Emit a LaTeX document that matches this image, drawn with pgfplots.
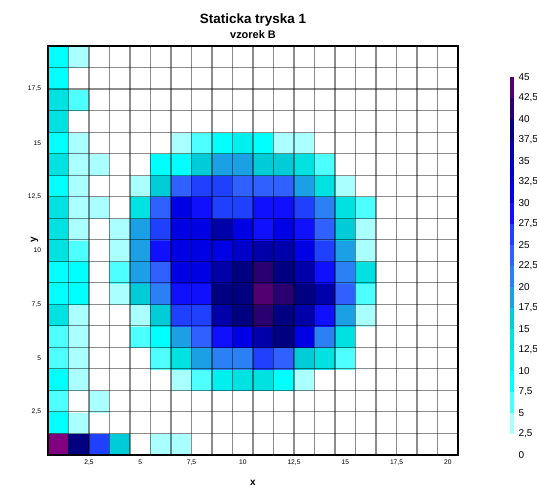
\documentclass[border=0pt]{standalone}
\usepackage{fontspec}
\setmainfont{Liberation Sans}
\usepackage{pgfplots}
\pgfplotsset{compat=1.18}
\begin{document}
\begin{tikzpicture}[x=1bp,y=1bp]
\useasboundingbox (0,0) rectangle (537,488);
\begin{axis}[
  at={(48bp,33bp)}, anchor=south west,
  scale only axis, width=410bp, height=409bp,
  xmin=0.5, xmax=20.5, ymin=0.5, ymax=19.5,
  y dir=normal,
  xtick={2.5,5,7.5,10,12.5,15,17.5,20},
  ytick={2.5,5,7.5,10,12.5,15,17.5},
  minor xtick={0.5,1.5,2.5,3.5,4.5,5.5,6.5,7.5,8.5,9.5,10.5,11.5,12.5,13.5,14.5,15.5,16.5,17.5,18.5,19.5,20.5},
  minor ytick={0.5,1.5,2.5,3.5,4.5,5.5,6.5,7.5,8.5,9.5,10.5,11.5,12.5,13.5,14.5,15.5,16.5,17.5,18.5,19.5},
  xminorgrids, yminorgrids,
  minor grid style={black, opacity=0.45, line width=1.1bp},
  axis on top,
  major tick length=0pt, minor tick length=0pt,
  /pgf/number format/use comma,
  /pgf/number format/assume math mode=true,
  tick label style={font=\fontsize{6.7}{8}\selectfont},
  xticklabel style={yshift=-1.5bp},
  yticklabel style={xshift=-3.5bp},
  axis line style={black, line width=1.2bp},
  xlabel={\textbf{x}}, ylabel={\textbf{y}},
  label style={font=\fontsize{10}{12}\selectfont},
  xlabel style={yshift=-8bp},
  ylabel style={yshift=-17bp, xshift=11bp},
  colormap={hm}{
    rgb255(0cm)=(255,255,255)
    rgb255(1cm)=(170,255,255)
    rgb255(2cm)=(77,255,255)
    rgb255(3cm)=(0,255,255)
    rgb255(4cm)=(0,240,240)
    rgb255(5cm)=(0,226,226)
    rgb255(6cm)=(0,204,216)
    rgb255(7cm)=(27,160,229)
    rgb255(8cm)=(44,128,245)
    rgb255(9cm)=(48,96,255)
    rgb255(10cm)=(32,64,255)
    rgb255(11cm)=(16,16,255)
    rgb255(12cm)=(0,0,229)
    rgb255(13cm)=(0,0,200)
    rgb255(14cm)=(0,0,170)
    rgb255(15cm)=(0,0,128)
    rgb255(16cm)=(42,0,112)
    rgb255(17cm)=(80,0,112)
    rgb255(18cm)=(128,0,128)
  },
  colormap access=piecewise constant,
  point meta min=0, point meta max=45,
  colorbar,
  colorbar style={
    at={(parent axis.south east)}, anchor=south west, xshift=43bp,
    scale only axis, width=4bp, height=378bp,
    ytick={0,2.5,5,7.5,10,12.5,15,17.5,20,22.5,25,27.5,30,32.5,35,37.5,40,42.5,45},
    yticklabel style={font=\fontsize{10}{12}\selectfont, xshift=1.5bp},
    axis line style={draw=none}, major tick length=0pt,
    /pgf/number format/use comma,
    /pgf/number format/assume math mode=true,
  },
]
\addplot[matrix plot*, mesh/cols=20, point meta=explicit, y dir=normal] coordinates {
(1,1)[45] (2,1)[38.75] (3,1)[26.25] (4,1)[16.25] (5,1)[0] (6,1)[3.75] (7,1)[3.75] (8,1)[0] (9,1)[0] (10,1)[0] (11,1)[0] (12,1)[0] (13,1)[0] (14,1)[0] (15,1)[0] (16,1)[0] (17,1)[0] (18,1)[0] (19,1)[0] (20,1)[0]
(1,2)[8.75] (2,2)[3.75] (3,2)[0] (4,2)[0] (5,2)[0] (6,2)[0] (7,2)[0] (8,2)[0] (9,2)[0] (10,2)[0] (11,2)[0] (12,2)[0] (13,2)[0] (14,2)[0] (15,2)[0] (16,2)[0] (17,2)[0] (18,2)[0] (19,2)[0] (20,2)[0]
(1,3)[6.25] (2,3)[0] (3,3)[3.75] (4,3)[0] (5,3)[0] (6,3)[0] (7,3)[0] (8,3)[0] (9,3)[0] (10,3)[0] (11,3)[0] (12,3)[0] (13,3)[0] (14,3)[0] (15,3)[0] (16,3)[0] (17,3)[0] (18,3)[0] (19,3)[0] (20,3)[0]
(1,4)[8.75] (2,4)[3.75] (3,4)[0] (4,4)[0] (5,4)[0] (6,4)[0] (7,4)[3.75] (8,4)[6.25] (9,4)[11.25] (10,4)[13.75] (11,4)[13.75] (12,4)[8.75] (13,4)[3.75] (14,4)[0] (15,4)[0] (16,4)[0] (17,4)[0] (18,4)[0] (19,4)[0] (20,4)[0]
(1,5)[6.25] (2,5)[3.75] (3,5)[0] (4,5)[0] (5,5)[0] (6,5)[6.25] (7,5)[13.75] (8,5)[18.75] (9,5)[21.25] (10,5)[21.25] (11,5)[26.25] (12,5)[23.75] (13,5)[16.25] (14,5)[13.75] (15,5)[6.25] (16,5)[0] (17,5)[0] (18,5)[0] (19,5)[0] (20,5)[0]
(1,6)[6.25] (2,6)[3.75] (3,6)[0] (4,6)[0] (5,6)[6.25] (6,6)[8.75] (7,6)[18.75] (8,6)[23.75] (9,6)[28.75] (10,6)[31.25] (11,6)[36.25] (12,6)[38.75] (13,6)[31.25] (14,6)[21.25] (15,6)[13.75] (16,6)[0] (17,6)[0] (18,6)[0] (19,6)[0] (20,6)[0]
(1,7)[13.75] (2,7)[3.75] (3,7)[0] (4,7)[0] (5,7)[3.75] (6,7)[16.25] (7,7)[26.25] (8,7)[26.25] (9,7)[36.25] (10,7)[38.75] (11,7)[41.25] (12,7)[38.75] (13,7)[36.25] (14,7)[28.75] (15,7)[18.75] (16,7)[3.75] (17,7)[0] (18,7)[0] (19,7)[0] (20,7)[0]
(1,8)[8.75] (2,8)[8.75] (3,8)[0] (4,8)[3.75] (5,8)[16.25] (6,8)[21.25] (7,8)[28.75] (8,8)[28.75] (9,8)[38.75] (10,8)[38.75] (11,8)[43.75] (12,8)[41.25] (13,8)[38.75] (14,8)[36.25] (15,8)[23.75] (16,8)[6.25] (17,8)[0] (18,8)[0] (19,8)[0] (20,8)[0]
(1,9)[8.75] (2,9)[8.75] (3,9)[0] (4,9)[6.25] (5,9)[18.75] (6,9)[23.75] (7,9)[31.25] (8,9)[31.25] (9,9)[36.25] (10,9)[38.75] (11,9)[41.25] (12,9)[38.75] (13,9)[36.25] (14,9)[28.75] (15,9)[21.25] (16,9)[13.75] (17,9)[0] (18,9)[0] (19,9)[0] (20,9)[0]
(1,10)[13.75] (2,10)[6.25] (3,10)[0] (4,10)[3.75] (5,10)[18.75] (6,10)[28.75] (7,10)[31.25] (8,10)[31.25] (9,10)[31.25] (10,10)[33.75] (11,10)[36.25] (12,10)[36.25] (13,10)[31.25] (14,10)[26.25] (15,10)[18.75] (16,10)[3.75] (17,10)[0] (18,10)[0] (19,10)[0] (20,10)[0]
(1,11)[13.75] (2,11)[3.75] (3,11)[0] (4,11)[3.75] (5,11)[18.75] (6,11)[26.25] (7,11)[31.25] (8,11)[31.25] (9,11)[36.25] (10,11)[31.25] (11,11)[28.75] (12,11)[31.25] (13,11)[28.75] (14,11)[23.75] (15,11)[16.25] (16,11)[3.75] (17,11)[0] (18,11)[0] (19,11)[0] (20,11)[0]
(1,12)[13.75] (2,12)[3.75] (3,12)[3.75] (4,12)[0] (5,12)[13.75] (6,12)[23.75] (7,12)[31.25] (8,12)[28.75] (9,12)[26.25] (10,12)[26.25] (11,12)[28.75] (12,12)[28.75] (13,12)[26.25] (14,12)[21.25] (15,12)[13.75] (16,12)[6.25] (17,12)[0] (18,12)[0] (19,12)[0] (20,12)[0]
(1,13)[8.75] (2,13)[3.75] (3,13)[0] (4,13)[0] (5,13)[3.75] (6,13)[16.25] (7,13)[23.75] (8,13)[26.25] (9,13)[26.25] (10,13)[23.75] (11,13)[23.75] (12,13)[23.75] (13,13)[18.75] (14,13)[13.75] (15,13)[3.75] (16,13)[0] (17,13)[0] (18,13)[0] (19,13)[0] (20,13)[0]
(1,14)[13.75] (2,14)[3.75] (3,14)[3.75] (4,14)[0] (5,14)[0] (6,14)[8.75] (7,14)[8.75] (8,14)[16.25] (9,14)[18.75] (10,14)[18.75] (11,14)[16.25] (12,14)[16.25] (13,14)[13.75] (14,14)[6.25] (15,14)[0] (16,14)[0] (17,14)[0] (18,14)[0] (19,14)[0] (20,14)[0]
(1,15)[8.75] (2,15)[3.75] (3,15)[0] (4,15)[0] (5,15)[0] (6,15)[0] (7,15)[3.75] (8,15)[6.25] (9,15)[8.75] (10,15)[11.25] (11,15)[8.75] (12,15)[3.75] (13,15)[3.75] (14,15)[0] (15,15)[0] (16,15)[0] (17,15)[0] (18,15)[0] (19,15)[0] (20,15)[0]
(1,16)[13.75] (2,16)[0] (3,16)[0] (4,16)[0] (5,16)[0] (6,16)[0] (7,16)[0] (8,16)[0] (9,16)[0] (10,16)[0] (11,16)[0] (12,16)[0] (13,16)[0] (14,16)[0] (15,16)[0] (16,16)[0] (17,16)[0] (18,16)[0] (19,16)[0] (20,16)[0]
(1,17)[13.75] (2,17)[6.25] (3,17)[0] (4,17)[0] (5,17)[0] (6,17)[0] (7,17)[0] (8,17)[0] (9,17)[0] (10,17)[0] (11,17)[0] (12,17)[0] (13,17)[0] (14,17)[0] (15,17)[0] (16,17)[0] (17,17)[0] (18,17)[0] (19,17)[0] (20,17)[0]
(1,18)[8.75] (2,18)[0] (3,18)[0] (4,18)[0] (5,18)[0] (6,18)[0] (7,18)[0] (8,18)[0] (9,18)[0] (10,18)[0] (11,18)[0] (12,18)[0] (13,18)[0] (14,18)[0] (15,18)[0] (16,18)[0] (17,18)[0] (18,18)[0] (19,18)[0] (20,18)[0]
(1,19)[8.75] (2,19)[3.75] (3,19)[0] (4,19)[0] (5,19)[0] (6,19)[0] (7,19)[0] (8,19)[0] (9,19)[0] (10,19)[0] (11,19)[0] (12,19)[0] (13,19)[0] (14,19)[0] (15,19)[0] (16,19)[0] (17,19)[0] (18,19)[0] (19,19)[0] (20,19)[0]
};
\end{axis}
\node[font=\bfseries\fontsize{13.5}{16}\selectfont] at (253,468) {Staticka tryska 1};
\node[font=\bfseries\fontsize{11}{13}\selectfont] at (253,453) {vzorek B};
\end{tikzpicture}
\end{document}
